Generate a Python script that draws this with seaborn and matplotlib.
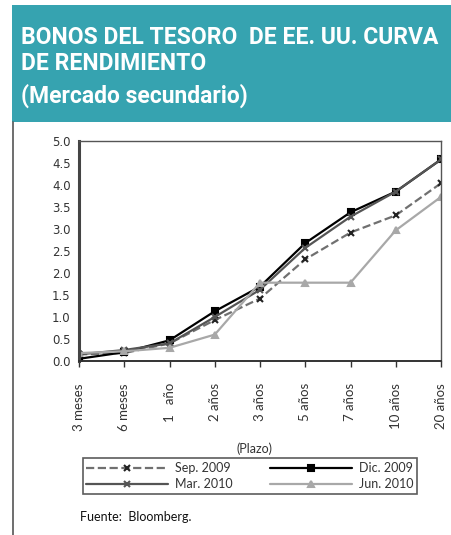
import matplotlib
matplotlib.use("Agg")
import matplotlib.pyplot as plt
from matplotlib.lines import Line2D
from matplotlib.patches import Rectangle
import seaborn as sns

# datos
plazos = ["3 meses", "6 meses", "1   año", "2 años", "3 años", "5 años", "7 años", "10 años", "20 años"]
sep_2009 = [0.15, 0.18, 0.40, 0.93, 1.42, 2.31, 2.92, 3.31, 4.04]
dic_2009 = [0.05, 0.20, 0.47, 1.13, 1.69, 2.68, 3.38, 3.85, 4.58]
mar_2010 = [0.15, 0.25, 0.40, 1.00, 1.62, 2.57, 3.28, 3.85, 4.58]
jun_2010 = [0.18, 0.22, 0.30, 0.60, 1.78, 1.78, 1.78, 2.97, 3.73]

titulo = ["BONOS DEL TESORO  DE EE. UU. CURVA", "DE RENDIMIENTO", "(Mercado secundario)"]

sns.set_theme(style="white")
plt.rcParams["font.family"] = ["Lato", "DejaVu Sans"]

W, H = 451, 535
fig = plt.figure(figsize=(W / 100, H / 100), dpi=100)

# encabezado
fig.add_artist(Rectangle((12 / W, 1 - 122 / H), 1 - 12 / W, 117 / H,
                         transform=fig.transFigure, color="#36A3B0", lw=0))
for txt, y in zip(titulo, [38, 63, 96]):
    fig.text(21 / W, 1 - y / H, txt, color="white", fontsize=16.5, fontweight="bold",
             va="center", ha="left", family=["Roboto", "DejaVu Sans"])
fig.add_artist(Line2D([13 / W, 13 / W], [0, 1 - 122 / H], transform=fig.transFigure,
                      color="#555555", lw=1.2))

ax = fig.add_axes([79 / W, 1 - 361 / H, (441 - 79) / W, 220 / H])
series = [
    ("Sep. 2009", sep_2009, "#707070", "--", "x", "#222222", 5),
    ("Dic. 2009", dic_2009, "#000000", "-", "s", "#000000", 5),
    ("Mar. 2010", mar_2010, "#555555", "-", "x", "#555555", 5),
    ("Jun. 2010", jun_2010, "#A8A8A8", "-", "^", "#A8A8A8", 5),
]
for nombre, vals, col, ls, mk, mcol, ms in series:
    sns.lineplot(x=list(range(len(plazos))), y=vals, ax=ax, sort=False, color=col,
                 linestyle=ls, marker=mk, markersize=ms, markeredgecolor=mcol,
                 markerfacecolor=mcol, markeredgewidth=1.5, lw=1.6, label=nombre)

ax.set_xlim(0, len(plazos) - 1)
ax.set_ylim(0, 5)
ax.set_yticks([i * 0.5 for i in range(11)])
ax.set_yticklabels([f"{i * 0.5:.1f}" for i in range(11)], fontsize=8.5,
                   color="#333333", family="DejaVu Sans")
ax.set_xticks(range(len(plazos)))
ax.set_xticklabels(plazos, rotation=90, fontsize=9.5, color="#333333")
ax.tick_params(axis="x", length=4, width=1, color="#333333", pad=12, bottom=True)
ax.tick_params(axis="y", length=0, pad=6)
for s in ["top", "right"]:
    ax.spines[s].set_color("#555555")
    ax.spines[s].set_linewidth(1)
ax.spines["left"].set_color("#444444")
ax.spines["left"].set_linewidth(2.2)
ax.spines["bottom"].set_color("#333333")
ax.spines["bottom"].set_linewidth(1.4)
ax.set_xlabel("")
ax.set_ylabel("")

fig.text(254 / W, 1 - 449 / H, "(Plazo)", fontsize=9, color="#333333", ha="center", va="center")

handles, labels = ax.get_legend_handles_labels()
ax.legend_.remove()
orden = [0, 2, 1, 3]
leg = fig.legend([handles[i] for i in orden], [labels[i] for i in orden], ncol=2,
                 loc="center", bbox_to_anchor=(250 / W, 1 - 476 / H), fontsize=9,
                 frameon=True, fancybox=False, edgecolor="#333333", handlelength=6.5,
                 numpoints=1, columnspacing=3, borderpad=0.3, labelspacing=0.3,
                 handletextpad=0.6)
leg.get_frame().set_linewidth(1.2)
for t in leg.get_texts():
    t.set_color("#333333")

fig.text(80 / W, 1 - 517 / H, "Fuente:  Bloomberg.", fontsize=9, color="#111111",
         ha="left", va="center")

fig.savefig("out.png", dpi=100)
